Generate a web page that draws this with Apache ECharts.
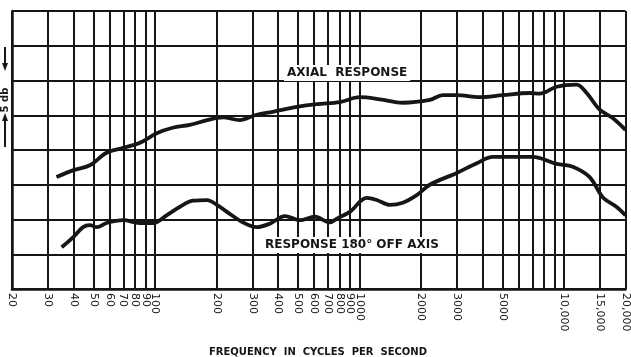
<!DOCTYPE html>
<html><head><meta charset="utf-8">
<script src="https://cdn.jsdelivr.net/npm/echarts@6/dist/echarts.min.js"></script>
<style>html,body{margin:0;padding:0;background:#fff}#c{width:631px;height:357px}</style>
</head><body><div id="c"></div>
<script>
const gridFreqs = [20,30,40,50,60,70,80,90,100,200,300,400,500,600,700,800,900,1000,2000,3000,4000,5000,6000,7000,8000,9000,10000,15000,20000];
const labelFreqs = [20,30,40,50,60,70,80,90,100,200,300,400,500,600,700,800,900,1000,2000,3000,5000,10000,15000,20000];

const axialFreq = [33,40,48,58,70,84,102,122,148,180,215,260,308,377,494,619,802,1004,1259,1628,2208,2557,2992,3876,5024,6808,7614,9224,11540,12916,14960,17300,20000];
const axialDb   = [16.1,17.1,17.8,19.6,20.3,21.0,22.4,23.2,23.6,24.3,24.7,24.3,25.0,25.5,26.2,26.6,26.9,27.6,27.3,26.8,27.2,27.9,27.9,27.6,27.9,28.2,28.1,29.1,29.4,28.2,25.8,24.6,22.9];

const offFreq = [35,40,44.5,48,52,58,70,84,98,114,132,153,180,201,225,269,315,365,432,511,605,716,784,898,1086,1216,1406,1628,1906,2208,2992,3750,4488,5623,7034,9224,11040,13360,15480,18100,20000];
const offDb   = [6.0,7.5,8.9,9.2,8.9,9.5,9.9,9.5,9.5,10.6,11.8,12.7,12.8,12.1,11.1,9.6,8.9,9.4,10.5,9.9,10.4,9.6,10.2,11.1,13.1,12.8,12.1,12.4,13.5,15.0,16.7,18.1,19.0,19.0,19.0,18.0,17.6,16.1,13.2,11.8,10.6];

const yMin = 0, yMax = 40, yStep = 5;
const axialLabel = 'AXIAL  RESPONSE';
const offLabel = 'RESPONSE 180° OFF AXIS';
const xTitle = 'FREQUENCY  IN  CYCLES  PER  SECOND';
const dbLabel = '5 db';

const ink = '#161616';
const chart = echarts.init(document.getElementById('c'), null, {renderer: 'canvas'});
chart.setOption({
  backgroundColor: '#fff',
  animation: false,
  grid: {left: 12, right: 3, top: 11, bottom: 68, containLabel: false},
  xAxis: {
    type: 'log', logBase: 10, min: 20, max: 20000,
    axisLine: {show: true, lineStyle: {color: ink, width: 2.5}},
    axisTick: {show: false, customValues: gridFreqs},
    splitLine: {show: true, lineStyle: {color: ink, width: 2}},
    minorSplitLine: {show: false},
    axisLabel: {
      customValues: labelFreqs,
      rotate: -90, margin: 4,
      fontFamily: 'DejaVu Sans', fontSize: 11, color: ink,
      formatter: v => v >= 10000 ? String(v).replace(/(\d)(\d{3})$/, '$1,$2') : String(v)
    }
  },
  yAxis: {
    type: 'value', min: yMin, max: yMax, interval: yStep,
    axisLine: {show: true, lineStyle: {color: ink, width: 2.5}},
    axisTick: {show: false},
    axisLabel: {show: false},
    splitLine: {show: true, lineStyle: {color: ink, width: 2}}
  },
  series: [
    {type: 'line', name: 'Axial', data: axialFreq.map((f, i) => [f, axialDb[i]]),
     smooth: 0.35, symbol: 'none', lineStyle: {color: ink, width: 3.8}, z: 5},
    {type: 'line', name: 'Off axis', data: offFreq.map((f, i) => [f, offDb[i]]),
     smooth: 0.35, symbol: 'none', lineStyle: {color: ink, width: 3.8}, z: 5}
  ],
  graphic: [
    {type: 'text', left: 284, top: 65, z: 10,
     style: {text: axialLabel, font: 'bold 12px "DejaVu Sans"', fill: ink, backgroundColor: '#fff', padding: [2, 3]}},
    {type: 'text', left: 262, top: 237, z: 10,
     style: {text: offLabel, font: 'bold 12px "DejaVu Sans"', fill: ink, backgroundColor: '#fff', padding: [2, 3]}},
    {type: 'text', x: 318, y: 352, z: 10,
     style: {text: xTitle, font: 'bold 10px "DejaVu Sans"', fill: ink, align: 'center', verticalAlign: 'middle'}},
    {type: 'text', x: 5, y: 100, rotation: Math.PI / 2, z: 10,
     style: {text: dbLabel, font: 'bold 10px "DejaVu Sans"', fill: ink, align: 'center', verticalAlign: 'middle'}},
    {type: 'line', shape: {x1: 5, y1: 47, x2: 5, y2: 66}, style: {stroke: ink, lineWidth: 2}},
    {type: 'polygon', shape: {points: [[2, 63], [8, 63], [5, 71]]}, style: {fill: ink}},
    {type: 'line', shape: {x1: 5, y1: 118, x2: 5, y2: 147}, style: {stroke: ink, lineWidth: 2}},
    {type: 'polygon', shape: {points: [[2, 121], [8, 121], [5, 113]]}, style: {fill: ink}}
  ]
});
</script>
</body></html>
